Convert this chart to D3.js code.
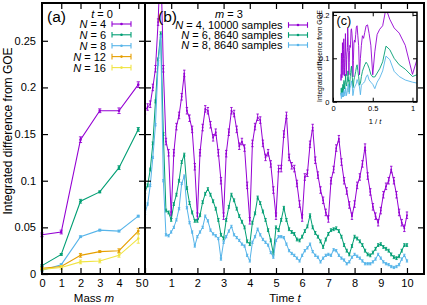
<!DOCTYPE html>
<html><head><meta charset="utf-8">
<script src="https://cdn.jsdelivr.net/npm/d3@7/dist/d3.min.js"></script>
<style>
body{margin:0;background:#fff}
svg{display:block}
text{font-family:"Liberation Sans",Arial,sans-serif;fill:#000}
</style>
</head><body>
<svg id="c" width="427" height="305"></svg>
<script>
// ---------- DATA ----------
// Panel (a): t = 0, difference vs mass m
const masses = [0, 1, 2, 3, 4, 5];
const seriesA = ["4", "6", "8", "12", "16"];
const diffN4 = [0.042, 0.045, 0.144, 0.175, 0.175, 0.203];
const diffN6 = [0.009, 0.021, 0.078, 0.088, 0.114, 0.155];
const diffN8 = [0.004, 0.010, 0.040, 0.047, 0.046, 0.062];
const diffN12 = [0.006, 0.008, 0.020, 0.024, 0.025, 0.046];
const diffN16 = [0.005, 0.007, 0.013, 0.014, 0.020, 0.038];
const errN4 = [0.002, 0.002, 0.003, 0.002, 0.003, 0.003];
const errN6 = [0.001, 0.001, 0.002, 0.001, 0.002, 0.002];
const errN8 = [0.001, 0.001, 0.001, 0.001, 0.001, 0.001];
const errN12 = [0.001, 0.001, 0.002, 0.001, 0.002, 0.003];
const errN16 = [0.001, 0.002, 0.002, 0.002, 0.002, 0.005];

// Panel (b): m = 3, difference vs time t
const times = [0,0.1,0.2,0.3,0.4,0.5,0.6,0.7,0.8,0.9,1,1.1,1.2,1.3,1.4,1.5,1.6,1.7,1.8,1.9,2,2.1,2.2,2.3,2.4,2.5,2.6,2.7,2.8,2.9,3,3.1,3.2,3.3,3.4,3.5,3.6,3.7,3.8,3.9,4,4.1,4.2,4.3,4.4,4.5,4.6,4.7,4.8,4.9,5,5.1,5.2,5.3,5.4,5.5,5.6,5.7,5.8,5.9,6,6.1,6.2,6.3,6.4,6.5,6.6,6.7,6.8,6.9,7,7.1,7.2,7.3,7.4,7.5,7.6,7.7,7.8,7.9,8,8.1,8.2,8.3,8.4,8.5,8.6,8.7,8.8,8.9,9,9.1,9.2,9.3,9.4,9.5,9.6,9.7,9.8,9.9,10];
const seriesB = ["N = 4, 10000 samples", "N = 6, 8640 samples", "N = 8, 8640 samples"];
const timeN4 = [0.175,0.179,0.182,0.200,0.220,0.270,0.340,0.220,0.142,0.130,
  0.063,0.130,0.158,0.170,0.190,0.215,0.175,0.167,0.155,0.115,
  0.062,0.130,0.157,0.177,0.175,0.160,0.146,0.152,0.130,0.100,
  0.062,0.129,0.152,0.175,0.172,0.155,0.137,0.142,0.135,0.095,
  0.057,0.140,0.158,0.168,0.165,0.140,0.125,0.130,0.118,0.090,
  0.062,0.113,0.113,0.150,0.170,0.125,0.116,0.113,0.097,0.075,
  0.060,0.104,0.108,0.139,0.157,0.122,0.106,0.090,0.079,0.066,
  0.059,0.100,0.112,0.135,0.145,0.120,0.100,0.089,0.074,0.062,
  0.075,0.095,0.104,0.118,0.136,0.105,0.088,0.072,0.062,0.055,
  0.068,0.085,0.094,0.100,0.112,0.100,0.085,0.066,0.055,0.049,
  0.063];
const timeN6 = [0.088,0.095,0.112,0.140,0.185,0.230,0.258,0.150,0.068,0.066,
  0.058,0.075,0.085,0.100,0.120,0.128,0.092,0.076,0.066,0.057,
  0.057,0.063,0.077,0.086,0.091,0.085,0.078,0.070,0.058,0.042,
  0.038,0.058,0.072,0.085,0.079,0.070,0.062,0.056,0.050,0.035,
  0.032,0.055,0.065,0.082,0.076,0.067,0.058,0.047,0.036,0.022,
  0.050,0.047,0.058,0.071,0.058,0.048,0.045,0.043,0.037,0.036,
  0.040,0.046,0.051,0.063,0.050,0.044,0.040,0.035,0.029,0.037,
  0.043,0.047,0.048,0.049,0.046,0.040,0.031,0.025,0.021,0.030,
  0.040,0.038,0.035,0.031,0.025,0.021,0.020,0.023,0.027,0.031,
  0.032,0.029,0.027,0.025,0.021,0.018,0.017,0.019,0.025,0.031,
  0.031];
const timeN8 = [0.065,0.075,0.095,0.125,0.160,0.225,0.255,0.100,0.042,0.041,
  0.045,0.050,0.058,0.070,0.097,0.105,0.071,0.055,0.045,0.030,
  0.040,0.045,0.050,0.062,0.057,0.047,0.043,0.041,0.038,0.016,
  0.034,0.040,0.046,0.051,0.042,0.039,0.036,0.032,0.030,0.020,
  0.014,0.034,0.040,0.048,0.042,0.037,0.034,0.031,0.023,0.018,
  0.036,0.040,0.040,0.039,0.032,0.025,0.022,0.020,0.017,0.014,
  0.020,0.025,0.028,0.032,0.024,0.020,0.018,0.013,0.017,0.020,
  0.021,0.020,0.026,0.025,0.020,0.017,0.015,0.011,0.013,0.018,
  0.021,0.019,0.017,0.014,0.011,0.011,0.011,0.013,0.016,0.021,
  0.017,0.013,0.011,0.010,0.008,0.007,0.008,0.010,0.016,0.020,
  0.014];
const timeErr = [0.0035, 0.0015, 0.0012];

const xTicksA = [0, 1, 2, 3, 4, 5];
const xTicksB = [0, 1, 2, 3, 4, 5, 6, 7, 8, 9, 10];
const yTicks = [0, 0.05, 0.1, 0.15, 0.2, 0.25];
const xTicksC = [0, 0.5, 1];
const yTicksC = [0, 0.1, 0.2];

// ---------- STYLE ----------
const colors = ["#9400d3", "#009e73", "#56b4e9", "#e69f00", "#f0e442"];
const svg = d3.select("#c");
const FS = 11;

const y = d3.scaleLinear().domain([0, 0.2905]).range([274, 3]);
const xa = d3.scaleLinear().domain([0, 5.35]).range([42, 145]);
const xb = d3.scaleLinear().domain([0, 10.65]).range([145, 424]);

function italicText(g, x, yy, parts, anchor, size) {
  const t = g.append("text").attr("x", x).attr("y", yy)
    .attr("text-anchor", anchor).attr("font-size", size);
  parts.forEach(p => t.append("tspan").attr("font-style", p[1] ? "italic" : "normal").text(p[0]));
  return t;
}

function errSeries(g, xs, ys, es, xScale, yScale, color, capW, r, lw) {
  const line = d3.line().x((d, i) => xScale(xs[i])).y(d => yScale(d));
  g.append("path").attr("d", line(ys)).attr("fill", "none")
    .attr("stroke", color).attr("stroke-width", lw);
  const pts = g.append("g").attr("stroke", color).attr("stroke-width", 0.9);
  ys.forEach((v, i) => {
    const e = Array.isArray(es) ? es[i] : es;
    const px = xScale(xs[i]);
    const y1 = yScale(v - e), y2 = yScale(v + e);
    pts.append("line").attr("x1", px).attr("x2", px).attr("y1", y1).attr("y2", y2);
    pts.append("line").attr("x1", px - capW).attr("x2", px + capW).attr("y1", y1).attr("y2", y1);
    pts.append("line").attr("x1", px - capW).attr("x2", px + capW).attr("y1", y2).attr("y2", y2);
    g.append("circle").attr("cx", px).attr("cy", yScale(v)).attr("r", r).attr("fill", color);
  });
}

function legendSample(g, x1, x2, yy, color) {
  g.append("line").attr("x1", x1).attr("x2", x2).attr("y1", yy).attr("y2", yy)
    .attr("stroke", color).attr("stroke-width", 1.1);
  [x1, x2].forEach(xx => g.append("line").attr("x1", xx).attr("x2", xx)
    .attr("y1", yy - 2.8).attr("y2", yy + 2.8).attr("stroke", color).attr("stroke-width", 1.1));
  g.append("circle").attr("cx", (x1 + x2) / 2).attr("cy", yy).attr("r", 1.3).attr("fill", color);
}

// ---------- PANEL (a) ----------
const ga = svg.append("g");
const aVals = [diffN4, diffN6, diffN8, diffN12, diffN16];
const aErrs = [errN4, errN6, errN8, errN12, errN16];
aVals.forEach((vals, k) => errSeries(ga, masses, vals, aErrs[k], xa, y, colors[k], 1.6, 1.3, 1.1));

// ---------- PANEL (b) ----------
svg.append("clipPath").attr("id", "clipB").append("rect")
  .attr("x", 145).attr("y", 3).attr("width", 279).attr("height", 271);
const gb = svg.append("g").attr("clip-path", "url(#clipB)");
const bVals = [timeN4, timeN6, timeN8];
bVals.forEach((vals, k) => errSeries(gb, times, vals, timeErr[k], xb, y, colors[k], 1.2, 0.9, 1.0));

// ---------- AXES ----------
function styleAxis(sel) {
  sel.select(".domain").remove();
  sel.selectAll(".tick line").attr("stroke", "#000").attr("stroke-width", 1.2);
  sel.selectAll(".tick text").attr("font-size", FS).attr("font-family", '"Liberation Sans",Arial,sans-serif');
}
// panel a
svg.append("g").attr("transform", "translate(0,274)")
  .call(d3.axisBottom(xa).tickValues(xTicksA).tickFormat(d3.format("d")).tickSizeInner(-6).tickSizeOuter(0).tickPadding(5))
  .call(styleAxis);
svg.append("g").attr("transform", "translate(0,3)")
  .call(d3.axisTop(xa).tickValues(xTicksA.slice(1)).tickFormat("").tickSizeInner(-6).tickSizeOuter(0))
  .call(styleAxis);
svg.append("g").attr("transform", "translate(42,0)")
  .call(d3.axisLeft(y).tickValues(yTicks).tickFormat(d3.format("~g")).tickSizeInner(-6).tickSizeOuter(0).tickPadding(6))
  .call(styleAxis);
svg.append("g").attr("transform", "translate(145,0)")
  .call(d3.axisRight(y).tickValues(yTicks.slice(1)).tickFormat("").tickSizeInner(-6).tickSizeOuter(0))
  .call(styleAxis);
// panel b
svg.append("g").attr("transform", "translate(0,274)")
  .call(d3.axisBottom(xb).tickValues(xTicksB).tickFormat(d3.format("d")).tickSizeInner(-6).tickSizeOuter(0).tickPadding(5))
  .call(styleAxis);
svg.append("g").attr("transform", "translate(0,3)")
  .call(d3.axisTop(xb).tickValues(xTicksB.slice(1)).tickFormat("").tickSizeInner(-6).tickSizeOuter(0))
  .call(styleAxis);
svg.append("g").attr("transform", "translate(145,0)")
  .call(d3.axisLeft(y).tickValues(yTicks.slice(1)).tickFormat("").tickSizeInner(-6).tickSizeOuter(0))
  .call(styleAxis);
svg.append("g").attr("transform", "translate(424,0)")
  .call(d3.axisRight(y).tickValues(yTicks.slice(1)).tickFormat("").tickSizeInner(-6).tickSizeOuter(0))
  .call(styleAxis);

// frames
svg.append("rect").attr("x", 42).attr("y", 3).attr("width", 103).attr("height", 271)
  .attr("fill", "none").attr("stroke", "#000").attr("stroke-width", 2);
svg.append("rect").attr("x", 145).attr("y", 3).attr("width", 279).attr("height", 271)
  .attr("fill", "none").attr("stroke", "#000").attr("stroke-width", 2);

// axis labels
svg.append("text").attr("transform", "translate(12,131) rotate(-90)")
  .attr("text-anchor", "middle").attr("font-size", 12).text("Integrated difference from GOE");
italicText(svg, 94, 301.5, [["Mass ", false], ["m", true]], "middle", 11.5);
italicText(svg, 285, 301.5, [["Time ", false], ["t", true]], "middle", 11.5);

// panel labels
svg.append("text").attr("x", 47).attr("y", 22).attr("font-size", 15.5).text("(a)");
svg.append("text").attr("x", 158).attr("y", 22).attr("font-size", 15.5).text("(b)");

// legend (a)
italicText(svg, 102, 18, [["t", true], [" = 0", false]], "middle", 11);
const legAy = [24, 34.8, 45.7, 56.6, 67.6];
seriesA.forEach((n, k) => {
  italicText(svg, 106, legAy[k] + 4, [["N", true], [" = " + n, false]], "end", 11);
  legendSample(svg, 112, 131, legAy[k], colors[k]);
});

// legend (b)
italicText(svg, 229, 18, [["m", true], [" = 3", false]], "middle", 11);
const legBy = [25, 35, 45];
seriesB.forEach((s, k) => {
  italicText(svg, 282.5, legBy[k] + 4, [["N", true], [s.slice(1), false]], "end", 11);
  legendSample(svg, 288.5, 307.5, legBy[k], colors[k]);
});

// ---------- INSET (c) ----------
const xi = d3.scaleLinear().domain([0, 1.057]).range([333, 417]);
const yi = d3.scaleLinear().domain([0, 0.206]).range([101.7, 12.3]);
svg.append("rect").attr("x", 333).attr("y", 12.3).attr("width", 84).attr("height", 89.4).attr("fill", "#fff");
svg.append("clipPath").attr("id", "clipC").append("rect")
  .attr("x", 333).attr("y", 12.3).attr("width", 84).attr("height", 89.4);
const gc = svg.append("g").attr("clip-path", "url(#clipC)");
bVals.forEach((vals, k) => {
  const pts = times.map((t, i) => [t, vals[i]]).filter(p => p[0] > 0);
  const line = d3.line().x(p => xi(1 / p[0])).y(p => yi(p[1]));
  gc.append("path").attr("d", line(pts)).attr("fill", "none")
    .attr("stroke", colors[k]).attr("stroke-width", 0.9);
});
function styleSmall(sel) {
  sel.select(".domain").remove();
  sel.selectAll(".tick line").attr("stroke", "#000").attr("stroke-width", 1);
  sel.selectAll(".tick text").attr("font-size", 7.5).attr("font-family", '"Liberation Sans",Arial,sans-serif');
}
svg.append("g").attr("transform", "translate(0,101.7)")
  .call(d3.axisBottom(xi).tickValues(xTicksC).tickFormat(d3.format("~g")).tickSizeInner(-4).tickSizeOuter(0).tickPadding(4))
  .call(styleSmall);
svg.append("g").attr("transform", "translate(0,12.3)")
  .call(d3.axisTop(xi).tickValues(xTicksC).tickFormat("").tickSizeInner(-4).tickSizeOuter(0))
  .call(styleSmall);
svg.append("g").attr("transform", "translate(333,0)")
  .call(d3.axisLeft(yi).tickValues(yTicksC).tickFormat(d3.format("~g")).tickSizeInner(-4).tickSizeOuter(0).tickPadding(3.5))
  .call(styleSmall);
svg.append("g").attr("transform", "translate(417,0)")
  .call(d3.axisRight(yi).tickValues(yTicksC).tickFormat("").tickSizeInner(-4).tickSizeOuter(0))
  .call(styleSmall);
svg.append("rect").attr("x", 333).attr("y", 12.3).attr("width", 84).attr("height", 89.4)
  .attr("fill", "none").attr("stroke", "#000").attr("stroke-width", 1.5);
svg.append("text").attr("x", 336.5).attr("y", 25).attr("font-size", 12.5).text("(c)");
svg.append("text").attr("transform", "translate(322,56) rotate(-90)")
  .attr("text-anchor", "middle").attr("font-size", 6.6).text("Integrated difference from GOE");
italicText(svg, 375, 123.5, [["1 / ", false], ["t", true]], "middle", 7.5);
</script>
</body></html>
